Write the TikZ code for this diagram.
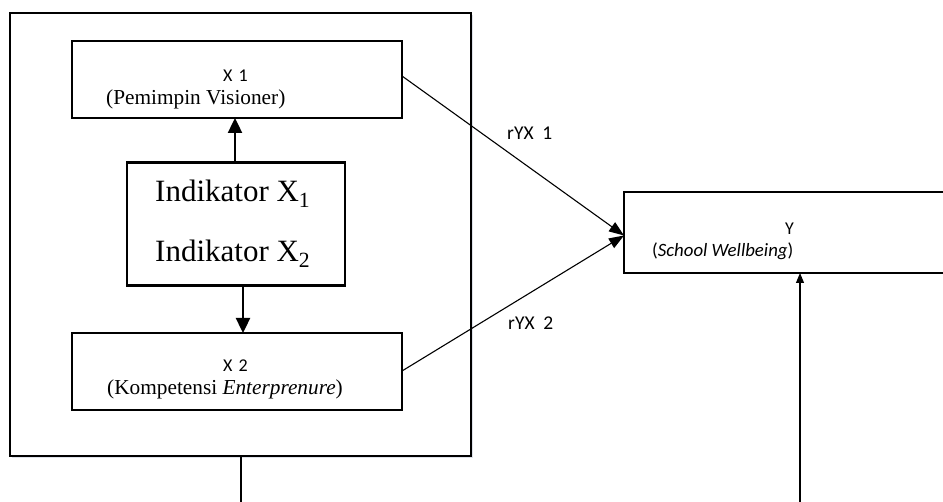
\documentclass[tikz,border=0pt]{standalone}
\usepackage{fontspec}
\setmainfont{Liberation Serif}
\newfontfamily\carlito{Carlito}
\usetikzlibrary{arrows.meta}
\definecolor{frameshadow}{RGB}{222,226,234}

\begin{document}
\begin{tikzpicture}[x=1pt,y=-1pt,
  thinbox/.style={draw=black,line width=1.1pt,fill=white,inner sep=0pt},
  thickbox/.style={draw=black,line width=2.4pt,fill=white,inner sep=0pt},
  lbl/.style={inner sep=0pt,anchor=base west},
  smalllbl/.style={lbl,font=\carlito\fontsize{18}{21}\selectfont},
  pathlbl/.style={lbl,font=\carlito\fontsize{19.5}{22}\selectfont},
  seriflbl/.style={lbl,font=\fontsize{21.3}{25}\selectfont},
  biglbl/.style={lbl,font=\fontsize{31}{36}\selectfont},
  boldarrow/.style={line width=2.4pt,-{Triangle[length=15pt,width=14pt]}},
  patharrow/.style={line width=1.1pt,-{Triangle[length=15pt,width=11pt]}},
  feedarrow/.style={line width=1.1pt,-{Triangle[length=10pt,width=8pt]}}
]
\useasboundingbox (0,0) rectangle (943,502);

% outer frame with a faint drop shadow
\fill[frameshadow] (12,15) rectangle (473,458);
\draw[line width=1.1pt,fill=white] (10,13) rectangle (471,456);
\coordinate (frameS) at (241,456);

% boxes
\node[thinbox,minimum width=330pt,minimum height=77pt] (x1) at (237,79.5) {};
\node[thickbox,minimum width=218pt,minimum height=123pt] (ind) at (236,224) {};
\node[thinbox,minimum width=330pt,minimum height=77pt] (x2) at (237,371.5) {};
\draw[line width=1.1pt] (960,192) -- (624,192) -- (624,273) -- (960,273);
\coordinate (yW) at (624,235.5);
\coordinate (yS) at (800,273);

% texts in the boxes
\node[smalllbl] (x1a) at (223,82) {X\,\,1};
\node[seriflbl] (x1b) at (106,105) {(Pemimpin Visioner)};
\node[biglbl] (inda) at (155,202) {Indikator X\textsubscript{1}};
\node[biglbl] (indb) at (155,262) {Indikator X\textsubscript{2}};
\node[smalllbl] (x2a) at (223,372) {X\,\,2};
\node[seriflbl] (x2b) at (107,395) {(Kompetensi \textit{Enterprenure})};
\node[smalllbl] (ya) at (785,235) {Y};
\node[lbl,font=\carlito\fontsize{18.8}{22}\selectfont] (yb) at (652,257) {(\textit{School Wellbeing})};

% path labels
\node[pathlbl] (r1) at (507,140) {rYX\ \ 1};
\node[pathlbl] (r2) at (508,330) {rYX\ \ 2};

% arrows
\draw[boldarrow] (235,162) -- (235,118);
\draw[boldarrow] (243,286) -- (243,333);
\draw[patharrow] (402,76) -- (yW);
\draw[patharrow] (402,371) -- (yW);

% feedback line leaving the bottom
\coordinate (b1) at (241,504);
\coordinate (b2) at (800,504);
\draw[line width=1.1pt] (frameS) -- (b1);
\draw[feedarrow] (b2) -- (yS);
\end{tikzpicture}
\end{document}
